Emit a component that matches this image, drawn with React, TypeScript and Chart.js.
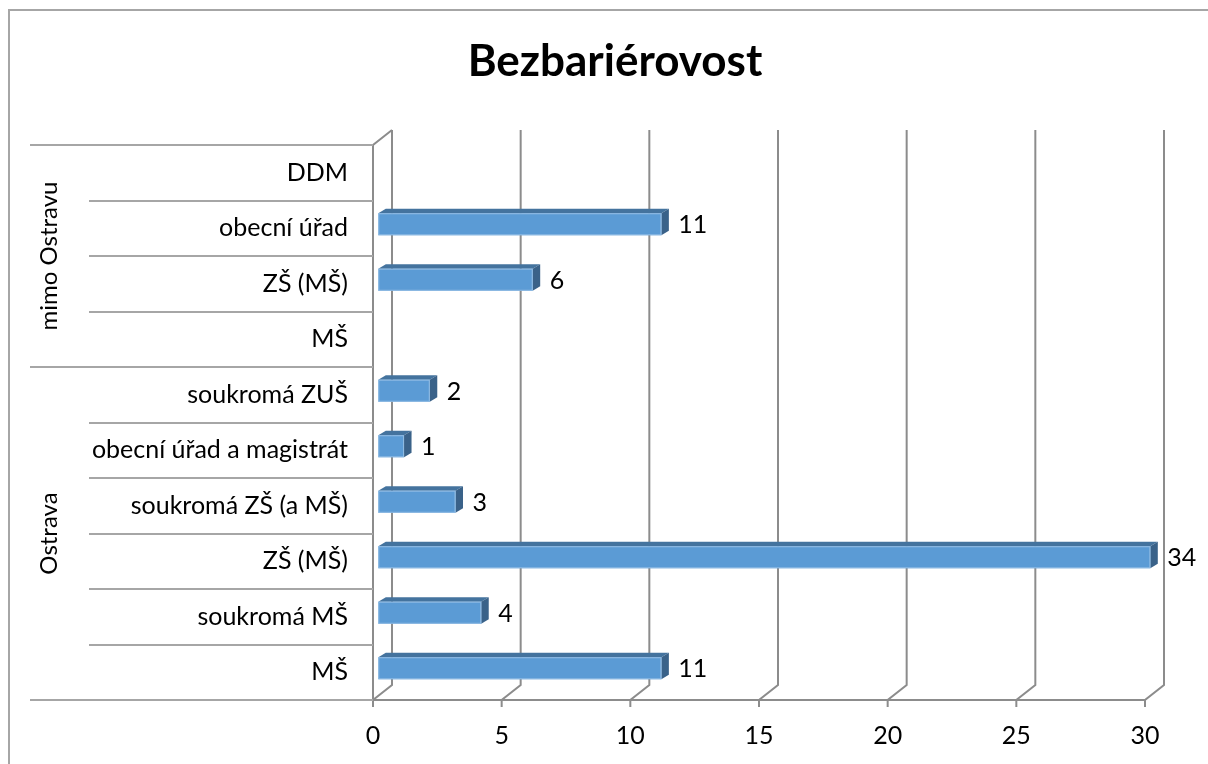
import React, { useEffect, useRef } from "react";
import { Chart, registerables } from "chart.js";

Chart.register(...registerables);

const categories = [
  "DDM",
  "obecní úřad",
  "ZŠ (MŠ)",
  "MŠ",
  "soukromá ZUŠ",
  "obecní úřad a magistrát",
  "soukromá ZŠ (a MŠ)",
  "ZŠ (MŠ)",
  "soukromá MŠ",
  "MŠ",
];
const values: (number | null)[] = [null, 11, 6, null, 2, 1, 3, 34, 4, 11];
const groups = [
  { name: "mimo Ostravu", from: 0, to: 3 },
  { name: "Ostrava", from: 4, to: 9 },
];
const titleText = "Bezbariérovost";
const xTicks = [0, 5, 10, 15, 20, 25, 30];

const FONT = "Lato, 'Open Sans', sans-serif";
const FS = 25;
const DX = 19;
const DY = -15;
const BDX = 7.5;
const BDY = -4.5;

const threeD = {
  id: "threeD",
  beforeDatasetsDraw(chart: any) {
    const ctx = chart.ctx;
    const xs = chart.scales.x;
    const ys = chart.scales.y;
    const { top, bottom, left } = chart.chartArea;
    ctx.save();
    // frame
    ctx.strokeStyle = "#a6a6a6";
    ctx.lineWidth = 2;
    ctx.strokeRect(9, 10, 1260, 800);
    // title
    ctx.fillStyle = "#000";
    ctx.font = `bold 44px ${FONT}`;
    ctx.textAlign = "center";
    ctx.textBaseline = "middle";
    ctx.fillText(titleText, 615, 62);

    // back wall gridlines
    ctx.strokeStyle = "#8c8c8c";
    ctx.lineWidth = 2;
    xTicks.forEach((v) => {
      const px = xs.getPixelForValue(v);
      ctx.beginPath();
      ctx.moveTo(px + DX, top + DY);
      ctx.lineTo(px + DX, bottom + DY);
      ctx.lineTo(px, bottom);
      ctx.lineTo(px, bottom + 7);
      ctx.stroke();
    });
    // floor front edge
    ctx.beginPath();
    ctx.moveTo(left, bottom);
    ctx.lineTo(xs.getPixelForValue(30), bottom);
    ctx.stroke();
    // left wall front axis
    ctx.beginPath();
    ctx.moveTo(left + DX, top + DY);
    ctx.lineTo(left, top);
    ctx.lineTo(left, bottom);
    ctx.stroke();

    // category separators
    ctx.strokeStyle = "#a6a6a6";
    ctx.lineWidth = 2;
    const n = categories.length;
    const step = (bottom - top) / n;
    for (let i = 0; i <= n; i++) {
      const y = Math.round(top + i * step);
      const isGroupEdge = groups.some((g) => g.from === i) || i === n;
      ctx.beginPath();
      ctx.moveTo(isGroupEdge ? 30 : 89, y);
      ctx.lineTo(left, y);
      ctx.stroke();
    }
    // group labels
    ctx.fillStyle = "#000";
    ctx.font = `${FS - 1}px ${FONT}`;
    groups.forEach((g) => {
      const y1 = ys.getPixelForValue(g.from) - step / 2;
      const y2 = ys.getPixelForValue(g.to) + step / 2;
      ctx.save();
      ctx.translate(49, (y1 + y2) / 2);
      ctx.rotate(-Math.PI / 2);
      ctx.textAlign = "center";
      ctx.textBaseline = "middle";
      ctx.fillText(g.name, 0, 0);
      ctx.restore();
    });
    ctx.restore();
  },
  afterDatasetsDraw(chart: any) {
    const ctx = chart.ctx;
    const xs = chart.scales.x;
    const meta = chart.getDatasetMeta(0);
    const maxPx = xs.getPixelForValue(30);
    ctx.save();
    meta.data.forEach((el: any, i: number) => {
      const v = values[i];
      if (v == null) return;
      const x0 = el.base + 5.3;
      const x1 = Math.min(el.x, maxPx) + 5.3;
      const h = 22;
      const yTop = el.y - 4 - h / 2;
      const yBot = yTop + h;
      // top face
      ctx.fillStyle = "#44739e";
      ctx.beginPath();
      ctx.moveTo(x0, yTop);
      ctx.lineTo(x0 + BDX, yTop + BDY);
      ctx.lineTo(x1 + BDX, yTop + BDY);
      ctx.lineTo(x1, yTop);
      ctx.closePath();
      ctx.fill();
      // side face
      ctx.fillStyle = "#3a6289";
      ctx.beginPath();
      ctx.moveTo(x1, yTop);
      ctx.lineTo(x1 + BDX, yTop + BDY);
      ctx.lineTo(x1 + BDX, yBot + BDY);
      ctx.lineTo(x1, yBot);
      ctx.closePath();
      ctx.fill();
      // front face
      ctx.fillStyle = "#5b9bd5";
      ctx.fillRect(x0, yTop, x1 - x0, h);
      ctx.strokeStyle = "#8fbbe3";
      ctx.lineWidth = 1;
      ctx.strokeRect(x0 + 0.5, yTop + 0.5, x1 - x0 - 1, h - 1);
      // label
      ctx.fillStyle = "#000";
      ctx.font = `${FS}px ${FONT}`;
      ctx.textAlign = "left";
      ctx.textBaseline = "middle";
      ctx.fillText(String(v), x1 + 17, yTop + h / 2 + 1);
    });
    ctx.restore();
  },
};

export default function App() {
  const ref = useRef<HTMLCanvasElement>(null);
  useEffect(() => {
    if (!ref.current) return;
    const chart = new Chart(ref.current, {
      type: "bar",
      data: {
        labels: categories,
        datasets: [
          {
            data: values as any,
            backgroundColor: "rgba(0,0,0,0)",
            borderWidth: 0,
            barThickness: 22,
          },
        ],
      },
      options: {
        indexAxis: "y",
        animation: false,
        responsive: false,
        maintainAspectRatio: false,
        layout: { padding: { left: 0, right: 63, top: 145, bottom: 0 } },
        plugins: {
          legend: { display: false },
          title: { display: false },
          tooltip: { enabled: false },
        },
        scales: {
          x: {
            min: 0,
            max: 30,
            afterFit: (s: any) => {
              s.height = 64;
            },
            afterBuildTicks: (s: any) => {
              s.ticks = xTicks.map((v) => ({ value: v }));
            },
            grid: { display: false },
            border: { display: false },
            ticks: {
              color: "#000",
              padding: 13,
              font: { family: FONT, size: FS },
            },
          },
          y: {
            afterFit: (s: any) => {
              s.width = 373;
            },
            grid: { display: false },
            border: { display: false },
            ticks: {
              color: "#000",
              padding: 17,
              font: { family: FONT, size: FS },
            },
          },
        },
      },
      plugins: [threeD],
    });
    return () => chart.destroy();
  }, []);
  return (
    <div style={{ position: "fixed", left: 0, top: 0, width: 1208, height: 764, background: "#fff", overflow: "hidden" }}>
      <canvas ref={ref} width={1208} height={764} style={{ display: "block" }} />
    </div>
  );
}
